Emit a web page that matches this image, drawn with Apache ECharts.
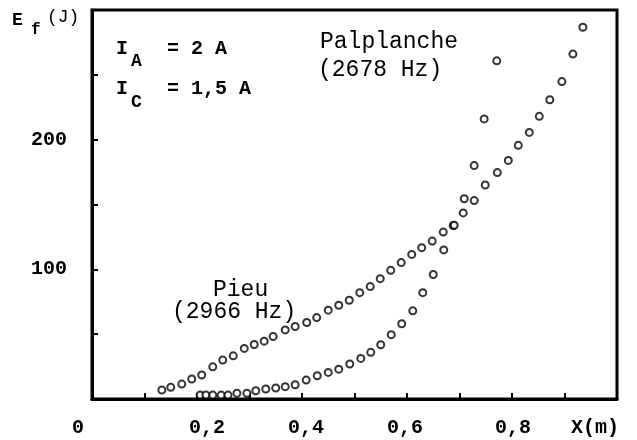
<!DOCTYPE html>
<html>
<head>
<meta charset="utf-8">
<title>Ef(X)</title>
<script src="https://cdn.jsdelivr.net/npm/echarts@6/dist/echarts.min.js"></script>
<style>
  * { margin: 0; padding: 0; }
  body { background: #fff; }
  #myChart { width: 637px; height: 440px; }
</style>
</head>
<body>
<div id="myChart"></div>
<script>
// Pieu (2966 Hz)
var pieuX = [0.133, 0.150, 0.171, 0.190, 0.209, 0.230, 0.249, 0.269, 0.290, 0.309,
  0.328, 0.345, 0.368, 0.387, 0.409, 0.428, 0.450, 0.470, 0.490, 0.510,
  0.530, 0.549, 0.569, 0.589, 0.609, 0.628, 0.648, 0.669, 0.688, 0.707,
  0.728, 0.749, 0.772, 0.793, 0.812, 0.833, 0.852, 0.872, 0.895, 0.916, 0.935]
var pieuY = [6.9, 9.0, 11.5, 15.4, 18.5, 24.8, 30, 33.3, 39, 42,
  44.6, 48.2, 53.3, 55.9, 59, 62.8, 68.5, 72.3, 76.2, 82,
  86.7, 92.8, 99.2, 105.2, 111.5, 116.7, 121.8, 128.7, 133.8, 143.5,
  153, 165, 174.6, 184, 195.6, 205.6, 218, 230.8, 244.8, 266, 286.7]

// Palplanche (2678 Hz)
var palX = [0.206, 0.217, 0.230, 0.246, 0.259, 0.276, 0.295, 0.312, 0.331, 0.350,
  0.368, 0.387, 0.408, 0.429, 0.450, 0.470, 0.491, 0.512, 0.531, 0.550,
  0.570, 0.590, 0.611, 0.630, 0.650, 0.670, 0.690, 0.709, 0.728, 0.747, 0.771]
var palY = [3, 3, 3, 3, 3, 4.4, 4.4, 6.4, 7.7, 8.5,
  9.5, 11, 14.6, 17.9, 20.5, 23, 27, 31.3, 36, 41.8,
  49.6, 58, 68, 82, 96, 115, 134, 154.4, 180, 216, 260.8]

var xTickLabels = ['0', '0,2', '0,4', '0,6', '0,8', 'X(m)']
var yTickLabels = ['100', '200']

var FONT = '"Liberation Mono", "Courier New", monospace'

function pairs (xs, ys) {
  return xs.map(function (x, i) { return [x, ys[i]] })
}

var myChart = echarts.init(document.getElementById('myChart'))

var pointStyle = {
  type: 'scatter',
  symbol: 'circle',
  symbolSize: 7,
  itemStyle: { color: '#fff', borderColor: '#000', borderWidth: 2 }
}

myChart.setOption({
  animation: false,
  backgroundColor: '#fff',
  grid: {
    left: 92,
    right: 20,
    top: 10,
    bottom: 41,
    show: true,
    borderColor: '#000',
    borderWidth: 3
  },
  xAxis: {
    type: 'value',
    min: 0,
    max: 1,
    interval: 0.1,
    splitLine: { show: false },
    axisLine: { lineStyle: { color: '#000', width: 3 } },
    axisTick: { inside: true, length: 6, lineStyle: { color: '#000', width: 2 } },
    axisLabel: {
      margin: 19,
      showMinLabel: true,
      showMaxLabel: true,
      formatter: function (v) {
        var k = Math.round(v * 10)
        if (k % 2 !== 0) return ''
        return '{l' + k + '|' + xTickLabels[k / 2] + '}'
      },
      rich: {
        l0: { fontFamily: FONT, fontSize: 20, fontWeight: 'bold', color: '#000', padding: [0, 28, 0, 0] },
        l2: { fontFamily: FONT, fontSize: 20, fontWeight: 'bold', color: '#000', padding: [0, 0, 0, 20] },
        l4: { fontFamily: FONT, fontSize: 20, fontWeight: 'bold', color: '#000', padding: [0, 0, 0, 8] },
        l6: { fontFamily: FONT, fontSize: 20, fontWeight: 'bold', color: '#000', padding: [0, 4, 0, 0] },
        l8: { fontFamily: FONT, fontSize: 20, fontWeight: 'bold', color: '#000', padding: [0, 0, 0, 2] },
        l10: { fontFamily: FONT, fontSize: 20, fontWeight: 'bold', color: '#000', padding: [0, 44, 0, 0] }
      }
    }
  },
  yAxis: {
    type: 'value',
    min: 0,
    max: 300,
    interval: 50,
    splitLine: { show: false },
    axisLine: { lineStyle: { color: '#000', width: 3 } },
    axisTick: { inside: true, length: 6, lineStyle: { color: '#000', width: 2 } },
    axisLabel: {
      margin: 25,
      fontFamily: FONT,
      fontSize: 20,
      fontWeight: 'bold',
      color: '#000',
      formatter: function (v) {
        var i = Math.round(v / 100) - 1
        if (v % 100 !== 0 || i < 0 || i >= yTickLabels.length) return ''
        return yTickLabels[i]
      }
    }
  },
  graphic: [
    { type: 'text', x: 12, y: 20, style: { text: 'E', font: 'bold 18px ' + FONT, fill: '#000', textVerticalAlign: 'middle' } },
    { type: 'text', x: 31, y: 30, style: { text: 'f', font: 'bold 16px ' + FONT, fill: '#000', textVerticalAlign: 'middle' } },
    { type: 'text', x: 47, y: 17, style: { text: '(J)', font: '18px ' + FONT, fill: '#000', textVerticalAlign: 'middle' } },

    { type: 'text', x: 116, y: 49, style: { text: 'I', font: 'bold 20px ' + FONT, fill: '#000', textVerticalAlign: 'middle' } },
    { type: 'text', x: 131, y: 61, style: { text: 'A', font: 'bold 18px ' + FONT, fill: '#000', textVerticalAlign: 'middle' } },
    { type: 'text', x: 167, y: 49, style: { text: '= 2 A', font: 'bold 20px ' + FONT, fill: '#000', textVerticalAlign: 'middle' } },

    { type: 'text', x: 116, y: 89, style: { text: 'I', font: 'bold 20px ' + FONT, fill: '#000', textVerticalAlign: 'middle' } },
    { type: 'text', x: 131, y: 102, style: { text: 'C', font: 'bold 18px ' + FONT, fill: '#000', textVerticalAlign: 'middle' } },
    { type: 'text', x: 167, y: 89, style: { text: '= 1,5 A', font: 'bold 20px ' + FONT, fill: '#000', textVerticalAlign: 'middle' } },

    { type: 'text', x: 320, y: 42, style: { text: 'Palplanche', font: '23px ' + FONT, fill: '#000', textVerticalAlign: 'middle' } },
    { type: 'text', x: 318, y: 70, style: { text: '(2678 Hz)', font: '23px ' + FONT, fill: '#000', textVerticalAlign: 'middle' } },

    { type: 'text', x: 213, y: 290, style: { text: 'Pieu', font: '23px ' + FONT, fill: '#000', textVerticalAlign: 'middle' } },
    { type: 'text', x: 172, y: 312, style: { text: '(2966 Hz)', font: '23px ' + FONT, fill: '#000', textVerticalAlign: 'middle' } }
  ],
  series: [
    Object.assign({ name: 'Pieu (2966 Hz)', data: pairs(pieuX, pieuY) }, pointStyle),
    Object.assign({ name: 'Palplanche (2678 Hz)', data: pairs(palX, palY) }, pointStyle)
  ]
})
</script>
</body>
</html>
